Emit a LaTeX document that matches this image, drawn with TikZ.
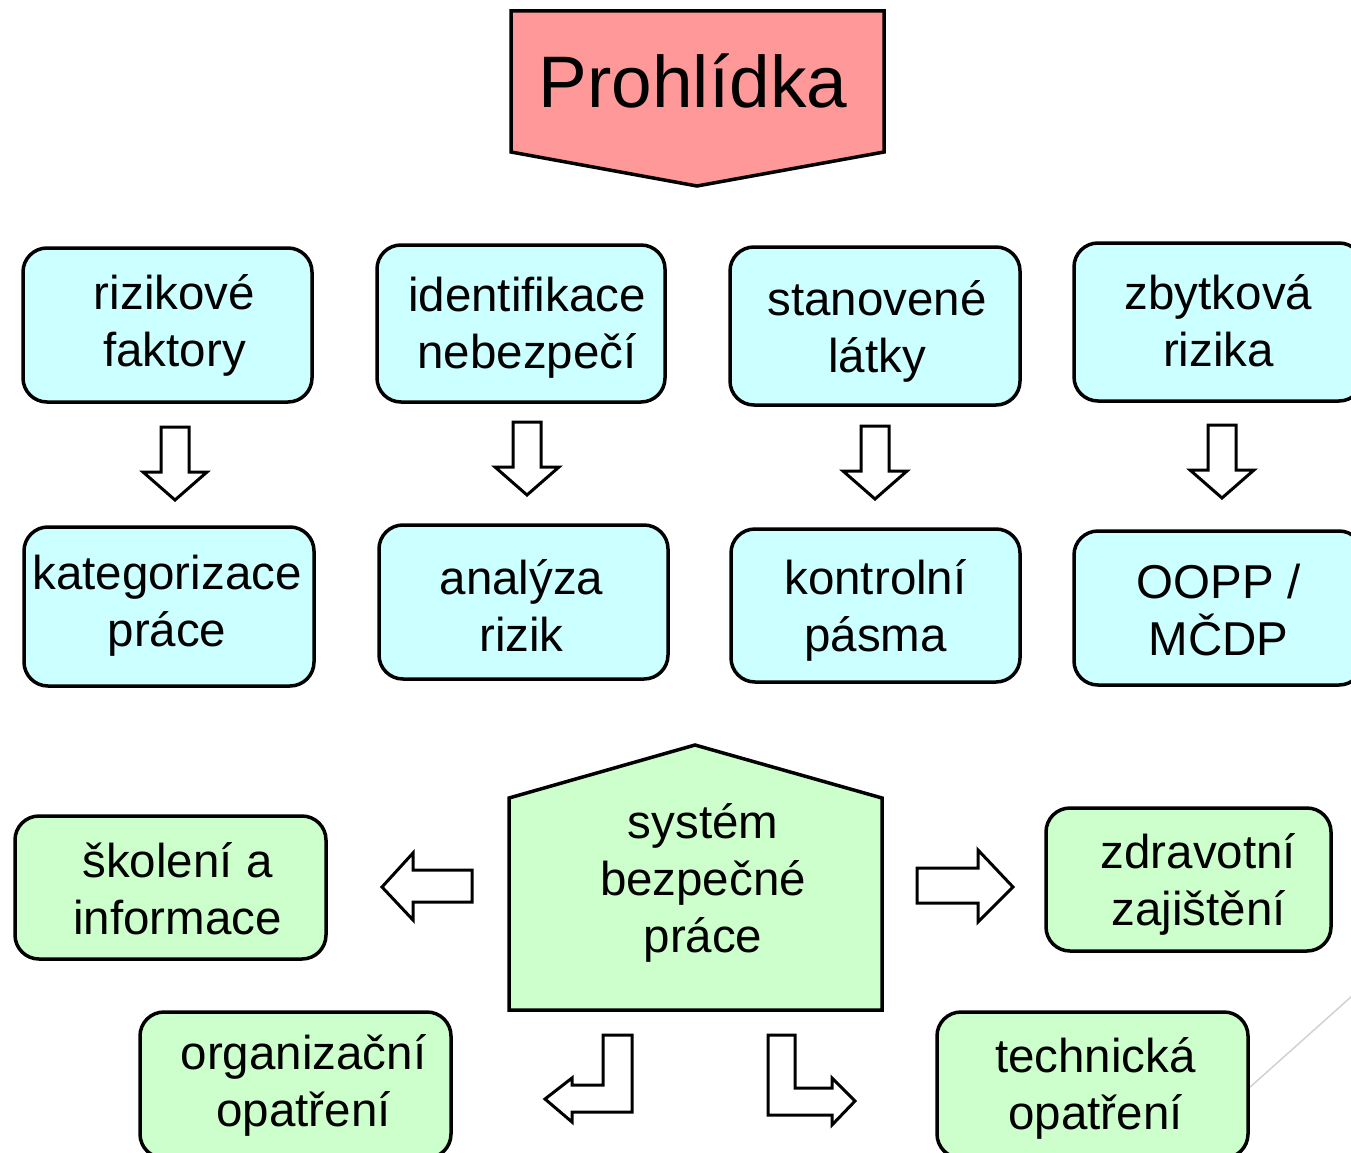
\documentclass[tikz,border=0pt]{standalone}
\usepackage{fontspec}
\setmainfont{Liberation Sans}
\definecolor{cy}{HTML}{CCFFFF}
\definecolor{gr}{HTML}{CCFFCC}
\definecolor{pk}{HTML}{FF9999}
\begin{document}
\begin{tikzpicture}[x=1pt,y=-1pt,
  box/.style={draw=black, line width=3.5pt, rounded corners=24pt, inner sep=0pt},
  cbox/.style={box, fill=cy},
  gbox/.style={box, fill=gr},
  txt/.style={align=center, font=\fontsize{47.5}{57}\selectfont, inner sep=0pt},
  barrow/.style={draw=black, line width=3pt, fill=white, line join=miter},
  shapeline/.style={draw=black, line width=3.5pt, line join=miter},
  darr/.pic={\draw[barrow] (-14,0) -- (14,0) -- (14,45) -- (32,45) -- (0,73) -- (-32,45) -- (-14,45) -- cycle;}
]
\useasboundingbox (0,0) rectangle (1351,1153);
\clip (0,0) rectangle (1351,1153);
\fill[white] (0,0) rectangle (1351,1153);
\draw[gray!35, line width=1.5pt] (1230,1105) -- (1380,971);

% top pentagon
\draw[shapeline, fill=pk] (511,11) -- (884,11) -- (884,152) -- (697,186) -- (511,152) -- cycle;
\node[font=\fontsize{73}{80}\selectfont, inner sep=0pt, anchor=base] (proh) at (693,108) {Prohlídka};

% row 1
\node[cbox, minimum width=289, minimum height=154] (b1) at (167.5,325) {};
\node[cbox, minimum width=288, minimum height=157] (b2) at (521,323.5) {};
\node[cbox, minimum width=290, minimum height=158] (b3) at (875,326) {};
\node[cbox, minimum width=289, minimum height=158] (b4) at (1218.5,322) {};
\node[txt] (tb1) at ([shift={(7,0)}]b1.center) {rizikové\\faktory};
\node[txt] (tb2) at ([shift={(6,4)}]b2.center) {identifikace\\nebezpečí};
\node[txt] (tb3) at ([shift={(2,5)}]b3.center) {stanovené\\látky};
\node[txt] (tb4) at ([shift={(0,-1)}]b4.center) {zbytková\\rizika};

% down arrows
\pic at (175,427) {darr};
\pic at (527,422) {darr};
\pic at (875,426) {darr};
\pic at (1222,425) {darr};

% row 2
\node[cbox, minimum width=290, minimum height=159] (c1) at (169,606.5) {};
\node[cbox, minimum width=289, minimum height=154] (c2) at (523.5,602) {};
\node[cbox, minimum width=289, minimum height=153] (c3) at (875.5,605.5) {};
\node[cbox, minimum width=289, minimum height=154] (c4) at (1218.5,608) {};
\node[txt] (tc1) at ([shift={(-2,-1)}]c1.center) {kategorizace\\práce};
\node[txt] (tc2) at ([shift={(-2,4)}]c2.center) {analýza\\rizik};
\node[txt] (tc3) at ([shift={(0,5)}]c3.center) {kontrolní\\pásma};
\node[txt] (tc4) at ([shift={(0,2)}]c4.center) {OOPP /\\MČDP};

% house
\draw[shapeline, fill=gr] (509,1010) -- (509,798) -- (695,745) -- (882,798) -- (882,1010) -- cycle;
\node[txt] (sys) at (703,883) {systém\\bezpečné\\práce};

% side arrows
\draw[barrow] (472,870) -- (413,870) -- (413,853) -- (382,887) -- (413,920) -- (413,902) -- (472,902) -- cycle;
\draw[barrow] (917,868) -- (978,868) -- (978,850) -- (1013,887) -- (978,922) -- (978,903) -- (917,903) -- cycle;

% bent arrows
\draw[barrow] (632,1035) -- (632,1112) -- (572,1112) -- (572,1122) -- (545,1099) -- (572,1078) -- (572,1085) -- (603,1085) -- (603,1035) -- cycle;
\draw[barrow] (768,1035) -- (768,1115) -- (832,1115) -- (832,1125) -- (855,1101) -- (832,1078) -- (832,1088) -- (795,1088) -- (795,1035) -- cycle;

% green boxes
\node[gbox, minimum width=311, minimum height=143] (sk) at (170.5,887.5) {};
\node[gbox, minimum width=285, minimum height=143] (zd) at (1188.5,879.5) {};
\node[gbox, minimum width=311, minimum height=146] (org) at (295.5,1085) {};
\node[gbox, minimum width=311, minimum height=146] (tech) at (1092.5,1085) {};
\node[txt] (tsk) at ([shift={(7,1)}]sk.center) {školení a\\informace};
\node[txt] (tzd) at ([shift={(10,5)}]zd.center) {zdravotní\\zajištění};
\node[txt] (torg) at ([shift={(8,0)}]org.center) {organizační\\opatření};
\node[txt] (ttech) at ([shift={(3,3)}]tech.center) {technická\\opatření};
\end{tikzpicture}
\end{document}
